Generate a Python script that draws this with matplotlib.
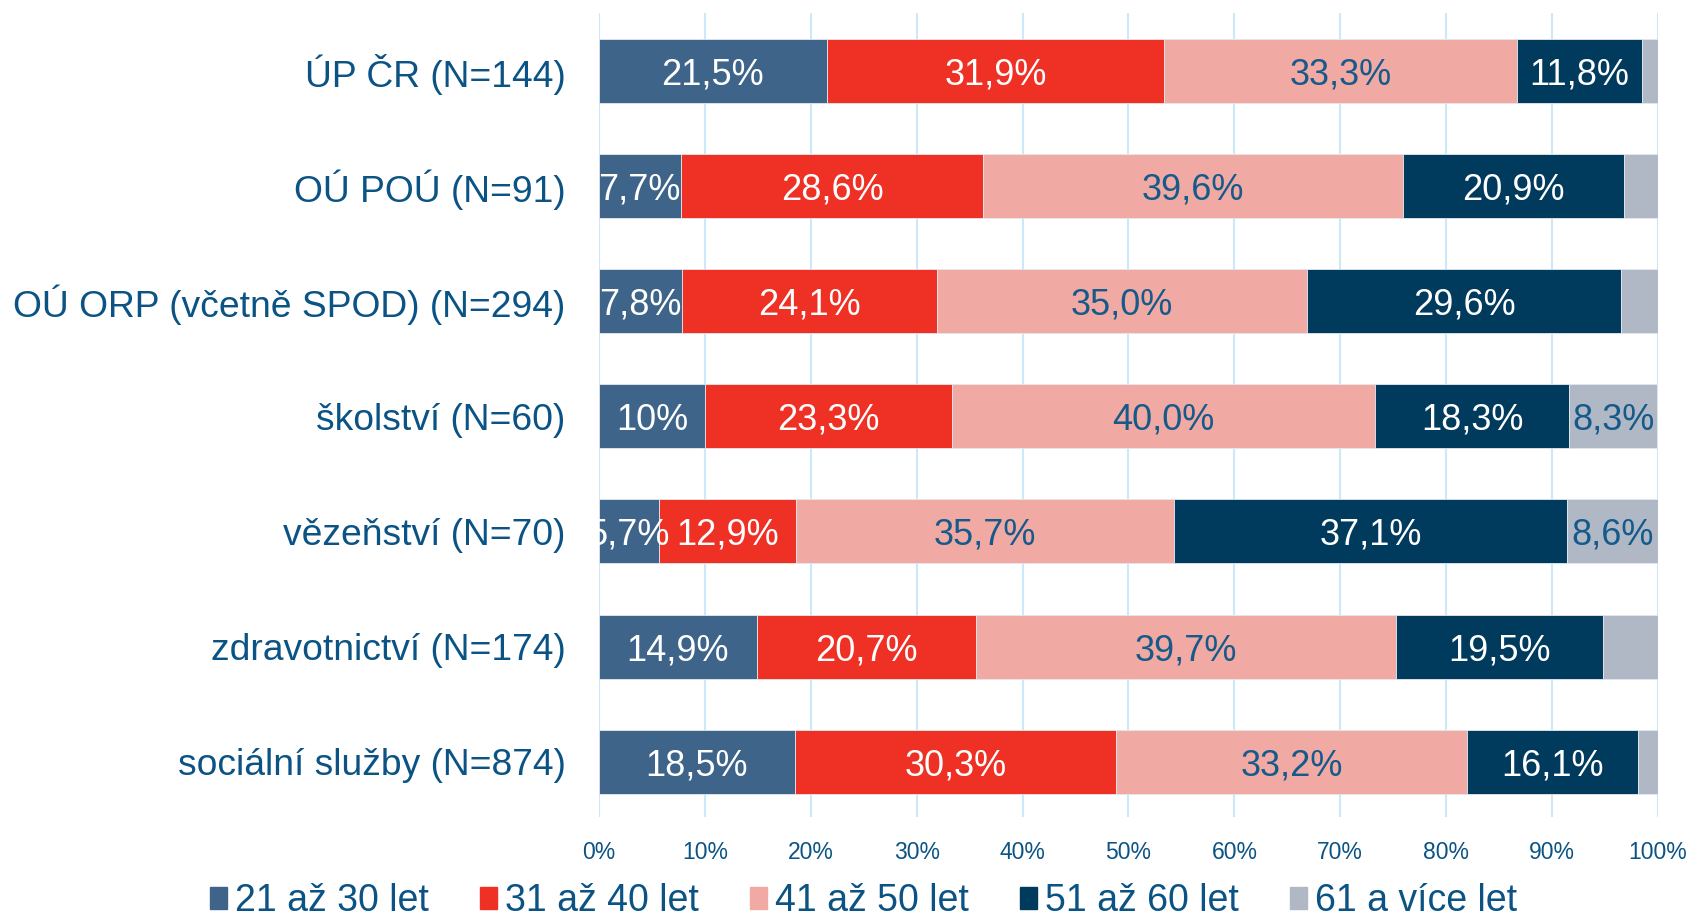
import matplotlib.pyplot as plt
from matplotlib.patches import Rectangle

# Categories (top to bottom) and age-group shares in %
categories = [
    "ÚP ČR (N=144)",
    "OÚ POÚ (N=91)",
    "OÚ ORP (včetně SPOD) (N=294)",
    "školství (N=60)",
    "vězeňství (N=70)",
    "zdravotnictví (N=174)",
    "sociální služby (N=874)",
]
age_21_30 = [21.5, 7.7, 7.8, 10.0, 5.7, 14.9, 18.5]
age_31_40 = [31.9, 28.6, 24.1, 23.3, 12.9, 20.7, 30.3]
age_41_50 = [33.3, 39.6, 35.0, 40.0, 35.7, 39.7, 33.2]
age_51_60 = [11.8, 20.9, 29.6, 18.3, 37.1, 19.5, 16.1]
age_61_plus = [1.5, 3.3, 3.5, 8.3, 8.6, 5.2, 1.9]

series_names = ["21 až 30 let", "31 až 40 let", "41 až 50 let", "51 až 60 let", "61 a více let"]
series_values = [age_21_30, age_31_40, age_41_50, age_51_60, age_61_plus]
colors = ["#3E6489", "#EE3124", "#F0A9A3", "#003B5E", "#B1B8C5"]
label_colors = ["white", "white", "#155A8A", "white", "#155A8A"]
text_blue = "#0B5384"

plt.rcParams['font.family'] = ['Liberation Sans', 'DejaVu Sans']

fig = plt.figure(figsize=(16.91, 9.21), dpi=100)
ax = fig.add_axes([0.3542, 0.1129, 0.6263, 0.873])

y = list(range(len(categories)))
left = [0.0] * len(categories)
for vals, color, lc in zip(series_values, colors, label_colors):
    ax.barh(y, vals, left=left, height=0.555, color=color,
            edgecolor="#E4E8EE", linewidth=0.6, zorder=3)
    for i, v in enumerate(vals):
        if v >= 5.5:
            txt = "10%" if v == 10.0 else f"{v:.1f}".replace(".", ",") + "%"
            ax.text(left[i] + v / 2, i, txt, ha="center", va="center_baseline",
                    color=lc, fontsize=26, zorder=4)
    left = [l + v for l, v in zip(left, vals)]

ax.set_xlim(0, 100)
ax.set_ylim(6.48, -0.5)
ax.set_yticks(y)
ax.set_yticklabels(categories, fontsize=26.8, color=text_blue)
ax.set_xticks(range(0, 101, 10))
ax.set_xticklabels([f"{t}%" for t in range(0, 101, 10)], fontsize=16.5, color=text_blue)
ax.tick_params(axis="y", length=0, pad=24)
ax.tick_params(axis="x", length=0, pad=17)
ax.grid(axis="x", color="#CDE8F8", linewidth=1.5, zorder=0)
for s in ax.spines.values():
    s.set_visible(False)

# legend, evenly spaced like the original
for i, (name, color) in enumerate(zip(series_names, colors)):
    x0 = (210 + i * 270) / 1691
    fig.patches.append(Rectangle((x0, 0.013), 17 / 1691, 22 / 921,
                                 transform=fig.transFigure, color=color))
    fig.text(x0 + 25 / 1691, 0.002, name, fontsize=27, color=text_blue,
             ha="left", va="bottom")

fig.savefig("out.png", dpi=100)
